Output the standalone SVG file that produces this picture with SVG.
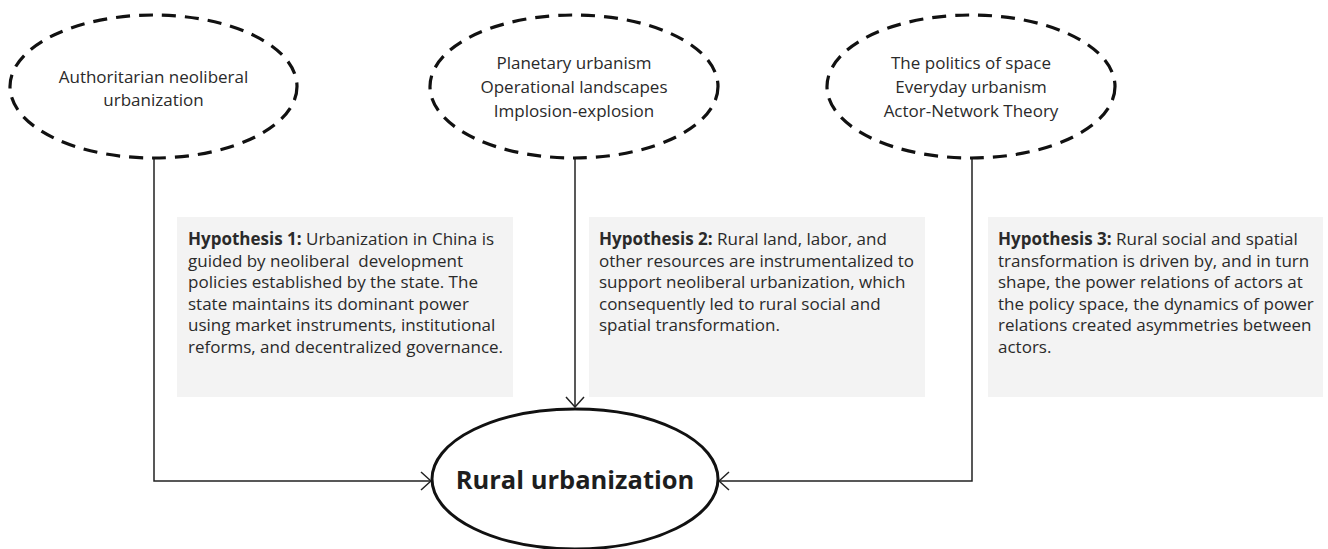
<svg xmlns="http://www.w3.org/2000/svg" width="1328" height="549" viewBox="0 0 1328 549">
<style>
text{font-family:"Open Sans","Noto Sans","Liberation Sans",sans-serif;fill:#2a2a2a;font-size:17px}
.c{text-anchor:middle}
.b{font-weight:bold}
.pre{white-space:pre}
.dash{fill:none;stroke:#111;stroke-width:3.2;stroke-dasharray:14 9}
.box{fill:#f3f3f3}
.ln{fill:none;stroke:#222;stroke-width:1.5}
.big{font-size:25.5px;font-weight:bold;fill:#1e1e1e}
</style>
<defs>
<marker id="ah" viewBox="0 0 12 20" refX="11" refY="10" markerWidth="12" markerHeight="20" markerUnits="userSpaceOnUse" orient="auto">
<path d="M1,1 L11,10 L1,19" fill="none" stroke="#222" stroke-width="1.5"/>
</marker>
</defs>
<rect width="1328" height="549" fill="#fff"/>
<g id="connectors">
<path class="ln" d="M154,158 V481 H431" marker-end="url(#ah)"/>
<path class="ln" d="M575,158 V407" marker-end="url(#ah)"/>
<path class="ln" d="M972,158 V481 H719" marker-end="url(#ah)"/>
</g>
<g id="theory1">
<ellipse class="dash" cx="153.5" cy="86.5" rx="143.5" ry="71.5"/>
<text class="c" x="153.5" y="83">Authoritarian neoliberal</text>
<text class="c" x="153.5" y="106">urbanization</text>
</g>
<g id="theory2">
<ellipse class="dash" cx="574" cy="86.5" rx="144" ry="71.5"/>
<text class="c" x="574" y="69">Planetary urbanism</text>
<text class="c" x="574" y="93">Operational landscapes</text>
<text class="c" x="574" y="117">Implosion-explosion</text>
</g>
<g id="theory3">
<ellipse class="dash" cx="971" cy="86.5" rx="144" ry="71.5"/>
<text class="c" x="971" y="69">The politics of space</text>
<text class="c" x="971" y="93">Everyday urbanism</text>
<text class="c" x="971" y="117">Actor-Network Theory</text>
</g>
<g id="hypothesis1">
<rect class="box" x="177" y="217" width="336" height="180"/>
<text x="188" y="245"><tspan class="b">Hypothesis 1:</tspan> Urbanization in China is</text>
<text class="pre" x="188" y="266.5" xml:space="preserve">guided by neoliberal  development</text>
<text x="188" y="288">policies established by the state. The</text>
<text x="188" y="309.5">state maintains its dominant power</text>
<text x="188" y="331">using market instruments, institutional</text>
<text x="188" y="352.5">reforms, and decentralized governance.</text>
</g>
<g id="hypothesis2">
<rect class="box" x="589" y="217" width="336" height="180"/>
<text x="599" y="245"><tspan class="b">Hypothesis 2:</tspan> Rural land, labor, and</text>
<text x="599" y="266.5">other resources are instrumentalized to</text>
<text x="599" y="288">support neoliberal urbanization, which</text>
<text x="599" y="309.5">consequently led to rural social and</text>
<text x="599" y="331">spatial transformation.</text>
</g>
<g id="hypothesis3">
<rect class="box" x="988" y="217" width="335" height="180"/>
<text x="998" y="245"><tspan class="b">Hypothesis 3:</tspan> Rural social and spatial</text>
<text x="998" y="266.5">transformation is driven by, and in turn</text>
<text x="998" y="288">shape, the power relations of actors at</text>
<text x="998" y="309.5">the policy space, the dynamics of power</text>
<text x="998" y="331">relations created asymmetries between</text>
<text x="998" y="352.5">actors.</text>
</g>
<g id="rural">
<ellipse cx="575" cy="479" rx="143" ry="70" fill="#fff" stroke="#111" stroke-width="3"/>
<text class="c big" x="575" y="489">Rural urbanization</text>
</g>
</svg>
